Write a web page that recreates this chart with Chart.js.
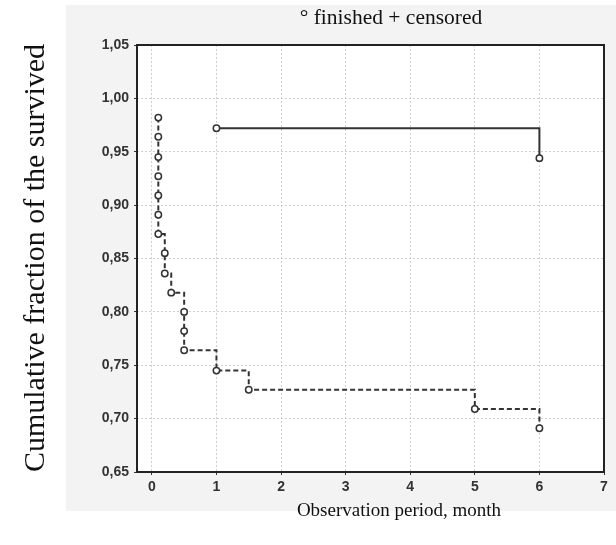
<!DOCTYPE html>
<html>
<head>
<meta charset="utf-8">
<script src="https://cdn.jsdelivr.net/npm/chart.js@4.4.1/dist/chart.umd.min.js"></script>
<style>
  html, body { margin: 0; padding: 0; background: #fff; }
  #wrap { width: 616px; height: 545px; position: relative; }
</style>
</head>
<body>
<div id="wrap"><canvas id="kmChart" width="616" height="545"></canvas></div>
<script>
// finished (dashed) - Kaplan-Meier steps
const finishedX = [0.1, 0.1, 0.1, 0.1, 0.1, 0.1, 0.1, 0.2, 0.2, 0.3, 0.5, 0.5, 0.5, 1, 1.5, 5, 6];
const finishedY = [0.982, 0.964, 0.945, 0.927, 0.909, 0.891, 0.873, 0.855, 0.836, 0.818, 0.800, 0.782, 0.764, 0.745, 0.727, 0.709, 0.691];
// censored (solid)
const censoredX = [1, 6];
const censoredY = [0.972, 0.944];

const xTicks = [0, 1, 2, 3, 4, 5, 6, 7];
const yTicks = [0.65, 0.70, 0.75, 0.80, 0.85, 0.90, 0.95, 1.00, 1.05];

function toPoints(xs, ys) {
  return xs.map((x, i) => ({ x: x, y: ys[i] }));
}

const frame = {
  id: 'frame',
  beforeDraw(chart) {
    const c = chart.ctx, a = chart.chartArea;
    c.save();
    c.fillStyle = '#fff';
    c.fillRect(0, 0, chart.width, chart.height);
    c.fillStyle = '#f3f3f3';
    c.fillRect(66, 5, 550, 506);
    c.fillStyle = '#fff';
    c.fillRect(a.left, a.top, a.right - a.left, a.bottom - a.top);
    c.restore();
  },
  afterDraw(chart) {
    const c = chart.ctx, a = chart.chartArea;
    c.save();
    c.strokeStyle = '#222';
    c.lineWidth = 2;
    c.strokeRect(a.left, a.top, a.right - a.left, a.bottom - a.top);
    c.fillStyle = '#111';
    c.textAlign = 'center';
    c.textBaseline = 'middle';
    c.font = '21.5px "Liberation Serif", "Times New Roman", serif';
    c.fillText('\u00b0 finished + censored', 391, 18);
    c.font = '19px "Liberation Serif", "Times New Roman", serif';
    c.fillText('Observation period, month', 399, 511);
    c.translate(36, 258);
    c.rotate(-Math.PI / 2);
    c.font = '30px "Liberation Serif", "Times New Roman", serif';
    c.fillText('Cumulative fraction of the survived', 0, 0);
    c.restore();
  }
};

const gridOpts = { color: '#cfcfcf', lineWidth: 1, tickLength: 3, tickColor: '#333', tickBorderDash: [] };

new Chart(document.getElementById('kmChart').getContext('2d'), {
  type: 'scatter',
  data: {
    datasets: [
      {
        label: 'finished',
        data: toPoints(finishedX, finishedY),
        showLine: true,
        stepped: true,
        borderColor: '#333',
        borderWidth: 2,
        borderDash: [5, 3],
        pointRadius: 3.2,
        pointBorderWidth: 1.5,
        pointBorderColor: '#333',
        pointBackgroundColor: '#fff'
      },
      {
        label: 'censored',
        data: toPoints(censoredX, censoredY),
        showLine: true,
        stepped: true,
        borderColor: '#333',
        borderWidth: 2,
        pointRadius: 3.2,
        pointBorderWidth: 1.5,
        pointBorderColor: '#333',
        pointBackgroundColor: '#fff'
      }
    ]
  },
  options: {
    responsive: false,
    animation: false,
    layout: { padding: { top: 45, right: 12, left: 0, bottom: 0 } },
    plugins: {
      legend: { display: false },
      tooltip: { enabled: false }
    },
    scales: {
      x: {
        type: 'linear',
        min: -0.23,
        max: 7,
        afterBuildTicks(scale) { scale.ticks = xTicks.map(v => ({ value: v })); },
        afterFit(scale) { scale.height = 73; },
        border: { display: false, dash: [2, 2] },
        grid: gridOpts,
        ticks: {
          color: '#333',
          padding: 4,
          font: { family: '"Liberation Sans", Arial, sans-serif', size: 14, weight: 'bold' },
          callback: v => String(v)
        }
      },
      y: {
        min: 0.65,
        max: 1.05,
        afterBuildTicks(scale) { scale.ticks = yTicks.map(v => ({ value: v })); },
        afterFit(scale) { scale.width = 137; },
        border: { display: false, dash: [2, 2] },
        grid: gridOpts,
        ticks: {
          color: '#333',
          padding: 5,
          font: { family: '"Liberation Sans", Arial, sans-serif', size: 14, weight: 'bold' },
          callback: v => v.toFixed(2).replace('.', ',')
        }
      }
    }
  },
  plugins: [frame]
});
</script>
</body>
</html>
